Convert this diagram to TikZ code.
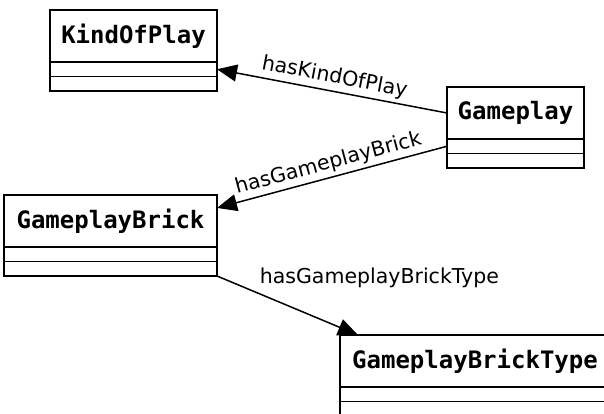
\documentclass[tikz,border=0pt]{standalone}
\usepackage{fontspec}
\setmainfont{DejaVu Sans}
\newfontfamily\classfont{DejaVu Sans Mono}
\usetikzlibrary{positioning,arrows.meta}
\tikzset{
classname/.style={
	draw, line width=1.5pt, outer sep=0pt, anchor=north west,
	font=\classfont\bfseries\fontsize{24}{28}\selectfont,
	minimum height=52pt, minimum width=#1, inner xsep=0pt},
compartment/.style={
	draw, line width=1.5pt, outer sep=0pt, inner sep=0pt,
	minimum height=14.5pt, minimum width=#1},
assoc/.style={
	line width=1.5pt, -{Triangle[length=20pt,width=17pt]}},
role/.style={font=\fontsize{20.5}{24}\selectfont}
}

\begin{document}
\begin{tikzpicture}[x=1pt, y=-1pt]
	\clip (0,0) rectangle (604,414);
	\node[classname=167pt] (kindofplay) at (50,10) {KindOfPlay};
	\node[compartment=167pt, below=0pt of kindofplay] (kindofplay-a) {};
	\node[compartment=167pt, below=0pt of kindofplay-a] (kindofplay-b) {};

	\node[classname=137pt] (gameplay) at (447,87) {Gameplay};
	\node[compartment=137pt, below=0pt of gameplay] (gameplay-a) {};
	\node[compartment=137pt, below=0pt of gameplay-a] (gameplay-b) {};

	\node[classname=213pt] (brick) at (4,195) {GameplayBrick};
	\node[compartment=213pt, below=0pt of brick] (brick-a) {};
	\node[compartment=213pt, below=0pt of brick-a] (brick-b) {};

	\node[classname=270pt] (bricktype) at (340,335) {GameplayBrickType};
	\node[compartment=270pt, below=0pt of bricktype] (bricktype-a) {};
	\node[compartment=270pt, below=0pt of bricktype-a] (bricktype-b) {};

	\draw[assoc] (gameplay.west) -- node[role, sloped, above] {hasKindOfPlay} (kindofplay-a.east);
	\draw[assoc] (gameplay-a.west) -- node[role, sloped, above] {hasGameplayBrick} (brick.7);
	\draw[assoc] (brick-b.south east) -- node[role, pos=0.275, anchor=south west] {hasGameplayBrickType} ([xshift=18pt]bricktype.north west);
\end{tikzpicture}
\end{document}
